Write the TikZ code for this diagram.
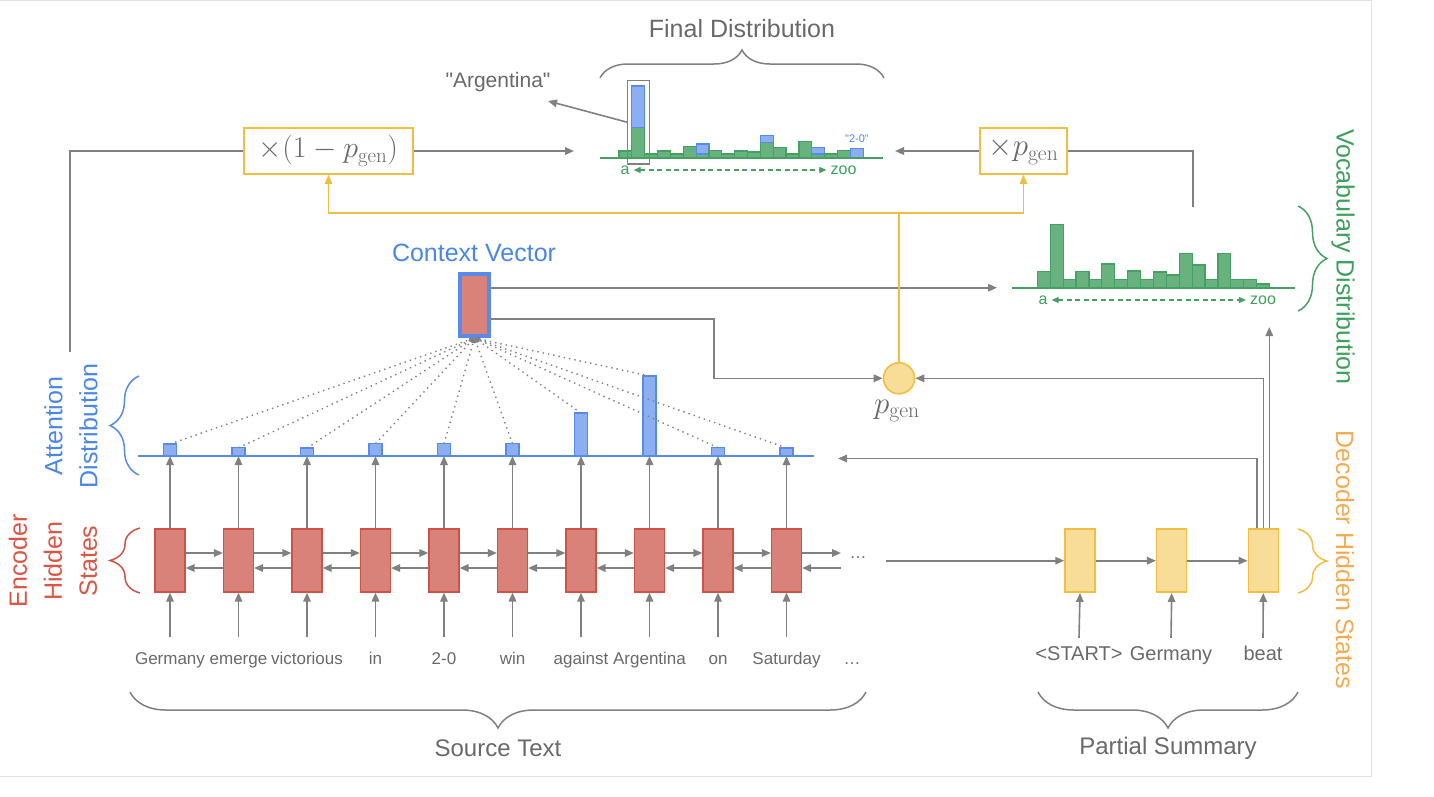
\RequirePackage{fix-cm}
\documentclass[tikz,border=0pt]{standalone}
\usepackage[no-math]{fontspec}
\setmainfont{Liberation Sans}[Ligatures=TeXOff]
\usetikzlibrary{arrows.meta,decorations.pathreplacing,calc}
\definecolor{tgray}{RGB}{105,105,105}
\definecolor{lgray}{RGB}{128,128,128}
\definecolor{encfill}{RGB}{217,130,121}
\definecolor{encdraw}{RGB}{207,82,70}
\definecolor{redtxt}{RGB}{219,84,68}
\definecolor{bfill}{RGB}{140,175,242}
\definecolor{bdraw}{RGB}{88,138,235}
\definecolor{btxt}{RGB}{74,134,232}
\definecolor{gfill}{RGB}{104,178,127}
\definecolor{gdraw}{RGB}{70,160,98}
\definecolor{gtxt}{RGB}{60,160,90}
\definecolor{yfill}{RGB}{248,221,152}
\definecolor{ydraw}{RGB}{242,190,66}
\definecolor{otxt}{RGB}{246,170,80}
\definecolor{framec}{RGB}{225,225,225}
\tikzset{
  arr/.style={draw=lgray, line width=1.6pt, -{Triangle[length=9pt,width=7.5pt]}},
  gln/.style={draw=lgray, line width=1.6pt},
  yln/.style={draw=ydraw, line width=1.6pt},
  yarr/.style={draw=ydraw, line width=1.6pt, -{Triangle[length=9pt,width=7.5pt]}},
  encbox/.style={draw=encdraw, fill=encfill, line width=1.2pt, minimum width=30pt, minimum height=63pt, inner sep=0pt},
  decbox/.style={draw=ydraw, fill=yfill, line width=1.5pt, minimum width=30pt, minimum height=63pt, inner sep=0pt},
  attbar/.style={draw=bdraw, fill=bfill, line width=1.2pt, minimum width=13pt, inner sep=0pt, outer sep=0pt, anchor=south},
  gbar/.style={draw=gdraw, fill=gfill, line width=1.2pt},
  bbar/.style={draw=bdraw, fill=bfill, line width=1.2pt},
  word/.style={text=tgray, font=\fontsize{17}{20}\selectfont, inner sep=0pt, text height=12pt, text depth=4pt},
  dword/.style={text=tgray, font=\fontsize{20}{24}\selectfont, inner sep=0pt, text height=14pt, text depth=5pt},
  biglab/.style={font=\fontsize{25}{35}\selectfont, align=center, inner sep=0pt},
  brc/.style={decorate, decoration={brace, amplitude=#1}, line width=1.5pt},
  mathbox/.style={draw=ydraw, line width=1.6pt, fill=white, minimum height=46pt, inner sep=0pt, text=tgray},
  dotln/.style={draw=lgray, line width=1.4pt, dash pattern=on 1.4pt off 4pt, -{Triangle[length=5pt,width=4pt]}},
  glab/.style={text=gtxt, font=\fontsize{16}{18}\selectfont, inner sep=4pt},
  gdash/.style={draw=gdraw, line width=1.3pt, dash pattern=on 5pt off 3.5pt, {Triangle[length=7pt,width=6pt]}-{Triangle[length=7pt,width=6pt]}},
  gbase/.style={draw=gdraw, line width=2pt},
}
\begin{document}
\begin{tikzpicture}[x=1pt,y=-1pt]
\useasboundingbox (0,0) rectangle (1434,796);
% frame
\draw[framec, line width=1pt] (0,0.5) -- (1371.5,0.5) -- (1371.5,776.5) -- (0,776.5);

% ---------- encoder ----------
\foreach \i in {1,...,10} \node[encbox] (e\i) at ({170+(\i-1)*68.5},560.5) {};
\foreach \w [count=\i] in {Germany,emerge,victorious,in,2-0,win,against,Argentina,on,Saturday}
  \node[word] (w\i) at ({170+(\i-1)*68.5},660) {\w};
\node[word] (wdots) at (852,660) {…};
\foreach \i in {1,...,10} \draw[arr] ([yshift=15pt]w\i.north) -- (e\i.south);
\foreach \i in {1,...,9} {
  \pgfmathtruncatemacro{\j}{\i+1}
  \draw[arr] ([yshift=7.5pt]e\i.east) -- ([yshift=7.5pt]e\j.west);
  \draw[arr] ([yshift=-7.5pt]e\j.west) -- ([yshift=-7.5pt]e\i.east);
}
\coordinate (edr) at (841,553);
\coordinate (edl) at (841,568);
\draw[arr] ([yshift=7.5pt]e10.east) -- (edr);
\draw[arr] (edl) -- ([yshift=-7.5pt]e10.east);
\node[text=tgray, font=\fontsize{17}{20}\selectfont, inner sep=0pt] (edots) at (858,558) {…};

% ---------- attention ----------
\foreach \h [count=\i] in {12,8.3,8,12.3,12.3,12.3,43,80,8.3,8}
  \node[attbar, minimum height=\h pt] (b\i) at ({170+(\i-1)*68.5},456) {};
\coordinate (al) at (138,456);
\coordinate (ar) at (814,456);
\draw[draw=bdraw, line width=2pt] (al) -- (ar);
\foreach \i in {1,...,10} \draw[arr] (e\i.north) -- (b\i.south);

% ---------- context vector ----------
\node[draw=bdraw, fill=encfill, line width=4pt, minimum width=29pt, minimum height=62pt, inner sep=0pt] (ctx) at (474.5,305) {};
\node[biglab, text=btxt] (ctxlab) at (474,253) {Context Vector};
\foreach \i in {1,...,10} \draw[dotln] (b\i.north) -- (ctx.south);

% ---------- p_gen ----------
\node[circle, draw=ydraw, fill=yfill, line width=1.6pt, minimum size=31pt, inner sep=0pt] (pg) at (899,378.3) {};
\node[text=tgray, font=\fontsize{31}{31}\selectfont, inner sep=0pt] (pglab) at (897,411) {$p_{\mathrm{gen}}$};

% ---------- decoder ----------
\node[decbox] (d1) at (1080,560.7) {};
\node[decbox] (d2) at (1171.7,560.7) {};
\node[decbox] (d3) at (1263.3,560.7) {};
\node[dword] (dw1) at (1079,656) {<START>};
\node[dword] (dw2) at (1171,656) {Germany};
\node[dword] (dw3) at (1263,656) {beat};
\draw[arr] ([yshift=8.5pt]dw1.north) -- (d1.south);
\draw[arr] ([yshift=8.5pt]dw2.north) -- (d2.south);
\draw[arr] ([yshift=8.5pt]dw3.north) -- (d3.south);
\coordinate (encend) at (886,560.7);
\draw[arr] (encend) -- (d1.west);
\draw[arr] (d1.east) -- (d2.west);
\draw[arr] (d2.east) -- (d3.west);
\coordinate (attin) at (838,458.5);
\draw[arr] ([xshift=-6.6pt]d3.north) |- (attin);
\draw[arr] (d3.north) |- (pg.east);
\coordinate (vdbot) at (1269.3,327);
\draw[arr] ([xshift=6pt]d3.north) -- (vdbot);

% ---------- context connections ----------
\coordinate (vdin) at (997,287.7);
\draw[arr] ([yshift=17.3pt]ctx.east) -- (vdin);
\draw[arr] ([yshift=-14pt]ctx.east) -- ++(223,0) |- (pg.west);

% ---------- vocabulary distribution ----------
\foreach \h [count=\i] in {16,63.4,8.4,16,8.4,23.7,8.4,16.7,8.4,15.7,12.7,34.4,22.7,8.4,34.4,8.4,8.4,3.7}
  \draw[gbar] ({1037.3+(\i-1)*12.9},287.7) rectangle ({1037.3+\i*12.9},{287.7-\h});
\draw[gbase] (1012,287.7) -- (1295,287.7);
\node[glab] (va) at (1043,300) {a};
\node[glab] (vz) at (1263,300) {zoo};
\draw[gdash] (va.east) -- (vz.west);

% ---------- final distribution ----------
\foreach \g/\b [count=\i] in {7.3/0,30.6/41.7,4.3/0,7.3/0,4.3/0,11.6/0,4.3/10,7.6/0,4.3/0,7.3/0,6.3/0,16/6.6,11/0,4.3/0,16.6/0,4.3/6.3,4.3/0,8/0,0/10} {
  \ifdim \g pt>0pt
    \draw[gbar] ({619+(\i-1)*12.85},158.3) rectangle ({619+\i*12.85},{158.3-\g});
  \fi
  \ifdim \b pt>0pt
    \draw[bbar] ({619+(\i-1)*12.85},{158.3-\g}) rectangle ({619+\i*12.85},{158.3-\g-\b});
  \fi
}
\draw[gbase] (600,158.3) -- (883,158.3);
\node[draw=lgray, line width=1.3pt, minimum width=21.6pt, minimum height=83.3pt, inner sep=0pt, outer sep=0pt] (argbox) at (638.5,122.35) {};
\node[text=tgray, font=\fontsize{21}{25}\selectfont, inner sep=0pt] (arglab) at (498,82) {"Argentina"};
\coordinate (argtip) at (548,101);
\draw[arr] (argbox.west) -- (argtip);
\node[text=btxt, font=\fontsize{11}{13}\selectfont, inner sep=0pt] (lab20) at (857,139) {"2-0"};
\node[glab] (fa) at (625,170) {a};
\node[glab] (fz) at (843.5,170) {zoo};
\draw[gdash] (fa.east) -- (fz.west);
\node[biglab, text=tgray] (fdlab) at (742,29) {Final Distribution};

% ---------- multiplier boxes ----------
\node[mathbox, minimum width=169pt] (m1) at (328.5,151) {\fontsize{30}{30}\selectfont$\times(1-p_{\mathrm{gen}})$};
\node[mathbox, minimum width=87pt] (m2) at (1023.5,151) {\fontsize{31}{31}\selectfont$\times p_{\mathrm{gen}}$};
\coordinate (lft) at (70,352);
\coordinate (fdl) at (574,151);
\coordinate (fdr) at (895,151);
\coordinate (vdtop) at (1193,207);
\draw[gln] (lft) |- (m1.west);
\draw[arr] (m1.east) -- (fdl);
\draw[arr] (m2.west) -- (fdr);
\draw[gln] (vdtop) |- (m2.east);
\coordinate (yj) at (899,213);
\draw[yln] (pg.north) -- (yj);
\draw[yarr] (yj) -| (m1.south);
\draw[yarr] (yj) -| (m2.south);

% ---------- braces ----------
\draw[brc=28, draw=lgray] (600,78) -- (884,78);
\draw[brc=29, draw=bdraw] (139,475) -- (139,376);
\draw[brc=30, draw=encdraw] (140,593) -- (140,528);
\draw[brc=29, draw=gdraw] (1298,206) -- (1298,311);
\draw[brc=29, draw=ydraw] (1298,529) -- (1298,593);
\draw[brc=36, draw=lgray] (866,692) -- (130,692);
\draw[brc=36, draw=lgray] (1298,692) -- (1038,692);

% ---------- labels ----------
\node[biglab, text=btxt, rotate=90] (attlab) at (71,426) {Attention\\Distribution};
\node[biglab, text=redtxt, rotate=90] (enclab) at (53,561) {Encoder\\Hidden\\States};
\node[biglab, text=gtxt, rotate=-90] (vocablab) at (1343,257) {Vocabulary Distribution};
\node[biglab, text=otxt, rotate=-90] (declab) at (1345,560) {Decoder Hidden States};
\node[text=tgray, font=\fontsize{24}{28}\selectfont, inner sep=0pt] (srclab) at (498,748) {Source Text};
\node[text=tgray, font=\fontsize{24}{28}\selectfont, inner sep=0pt] (sumlab) at (1168,748) {Partial Summary};
\end{tikzpicture}
\end{document}
